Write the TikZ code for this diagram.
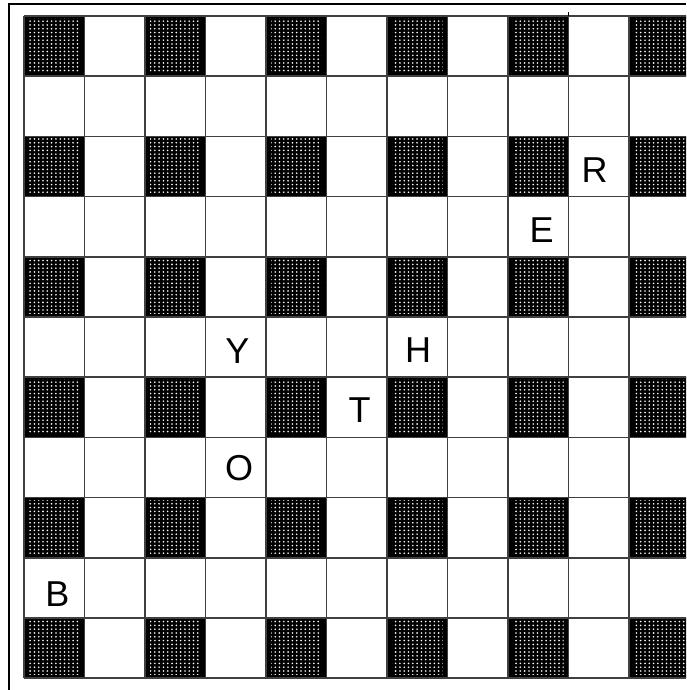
\documentclass[tikz,border=0pt]{standalone}
\usepackage{fontspec}
\setmainfont{Liberation Sans}
\usetikzlibrary{patterns.meta}
\tikzdeclarepattern{
  name=wdots,
  type=uncolored,
  bounding box={(-2.2pt,-1.9pt) and (2.2pt,1.9pt)},
  tile size={(4.3pt,3.8pt)},
  code={\fill (0pt,0pt) circle (0.9pt);}
}
\begin{document}
\begin{tikzpicture}[x=1pt,y=-1pt,
  gridline/.style={line width=1.5pt, draw=black!75},
  border/.style={line width=1.6pt, draw=black},
  letter/.style={font=\fontsize{36}{36}\selectfont, inner sep=0pt}]
\useasboundingbox (0,0) rectangle (686,690);
\clip (0,0) rectangle (686,690);
\fill[white] (0,0) rectangle (686,690);
\def\cw{60.5}
\def\ch{60.2}
\def\gx{24}
\def\gy{16}
% dark cells
\foreach \r in {0,2,...,10}{
  \foreach \c in {0,2,...,10}{
    \fill[black] ({\gx+\c*\cw},{\gy+\r*\ch}) rectangle ({\gx+(\c+1)*\cw},{\gy+(\r+1)*\ch});
    \fill[pattern=wdots, pattern color=white] ({\gx+\c*\cw+5},{\gy+\r*\ch+2.5}) rectangle ({\gx+(\c+1)*\cw-5},{\gy+(\r+1)*\ch-4});
  }
}
% grid lines
\foreach \i in {0,...,11}{
  \draw[gridline] ({\gx+\i*\cw},{\gy}) -- ({\gx+\i*\cw},{\gy+11*\ch});
  \draw[gridline] ({\gx},{\gy+\i*\ch}) -- ({\gx+11*\cw},{\gy+\i*\ch});
}
% outer border (left and top)
\draw[border] (9,690) -- (9,4) -- (686,4);
\draw[line width=1.2pt] (568.5,12) -- (568.5,16);
% letters
\node[letter] (R) at (594.5,170.5) {R};
\node[letter] (E) at (541.7,229.7) {E};
\node[letter] (Y) at (237.5,351) {Y};
\node[letter] (H) at (418,350) {H};
\node[letter] (T) at (359.5,410) {T};
\node[letter] (O) at (239,468) {O};
\node[letter] (B) at (57.5,594.5) {B};
\end{tikzpicture}
\end{document}
